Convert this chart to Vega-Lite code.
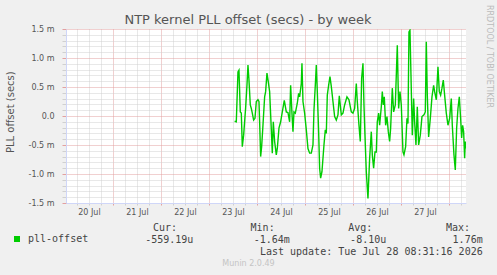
{
 "$schema": "https://vega.github.io/schema/vega-lite/v6.json",
 "width": 400,
 "height": 174,
 "autosize": {"type": "none"},
 "padding": {"left": 66, "top": 29, "right": 31, "bottom": 72},
 "background": "#F0F0F0",
 "config": {"view": {"stroke": null, "fill": "#FFFFFF"}, "font": "DejaVu Sans"},
 "title": {"text": "NTP kernel PLL offset (secs) - by week", "font": "DejaVu Sans", "fontSize": 13, "fontWeight": "normal", "color": "#555555", "anchor": "middle", "frame": "group", "baseline": "alphabetic", "dx": -18, "dy": 32.5, "offset": 0},
 "layer": [
  {
   "data": {"values": [
    {"t":"2026-07-23T12:50:00Z","v":-0.00009},{"t":"2026-07-23T13:40:00Z","v":-0.00010},{"t":"2026-07-23T14:30:00Z","v":0.00076},{"t":"2026-07-23T15:00:00Z","v":0.00079},{"t":"2026-07-23T15:40:00Z","v":0.00007},{"t":"2026-07-23T16:10:00Z","v":0.00005},{"t":"2026-07-23T16:40:00Z","v":-0.00053},{"t":"2026-07-23T17:20:00Z","v":-0.00033},{"t":"2026-07-23T18:20:00Z","v":0.00014},{"t":"2026-07-23T19:00:00Z","v":0.00053},{"t":"2026-07-23T19:30:00Z","v":0.00088},{"t":"2026-07-23T20:00:00Z","v":0.00062},{"t":"2026-07-23T20:40:00Z","v":0.00019},{"t":"2026-07-23T21:10:00Z","v":0.00013},{"t":"2026-07-23T21:40:00Z","v":0.00005},{"t":"2026-07-23T22:20:00Z","v":-0.00007},{"t":"2026-07-23T23:00:00Z","v":-0.00004},{"t":"2026-07-23T23:40:00Z","v":0.00025},
    {"t":"2026-07-24T00:30:00Z","v":0.00028},{"t":"2026-07-24T01:00:00Z","v":0.00025},{"t":"2026-07-24T01:20:00Z","v":-0.00010},{"t":"2026-07-24T01:50:00Z","v":-0.00070},{"t":"2026-07-24T02:20:00Z","v":-0.00053},{"t":"2026-07-24T03:00:00Z","v":-0.00016},{"t":"2026-07-24T03:50:00Z","v":0.00033},{"t":"2026-07-24T04:20:00Z","v":0.00042},{"t":"2026-07-24T05:00:00Z","v":0.00074},{"t":"2026-07-24T05:40:00Z","v":0.00059},{"t":"2026-07-24T06:20:00Z","v":0.00042},{"t":"2026-07-24T07:00:00Z","v":-0.00010},{"t":"2026-07-24T07:40:00Z","v":-0.00064},{"t":"2026-07-24T08:10:00Z","v":-0.00010},{"t":"2026-07-24T08:50:00Z","v":-0.00044},{"t":"2026-07-24T09:40:00Z","v":-0.00067},{"t":"2026-07-24T10:10:00Z","v":-0.00056},{"t":"2026-07-24T11:00:00Z","v":-0.00021},{"t":"2026-07-24T11:50:00Z","v":-0.00010},{"t":"2026-07-24T12:40:00Z","v":0.00007},{"t":"2026-07-24T13:40:00Z","v":0.00027},{"t":"2026-07-24T14:40:00Z","v":0.00007},{"t":"2026-07-24T15:30:00Z","v":0.00006},{"t":"2026-07-24T16:20:00Z","v":-0.00010},{"t":"2026-07-24T16:50:00Z","v":0.00053},{"t":"2026-07-24T17:30:00Z","v":0.00005},{"t":"2026-07-24T18:00:00Z","v":-0.00027},{"t":"2026-07-24T18:30:00Z","v":0.00007},{"t":"2026-07-24T19:10:00Z","v":0.00005},{"t":"2026-07-24T20:10:00Z","v":0.00022},{"t":"2026-07-24T20:50:00Z","v":0.00039},{"t":"2026-07-24T21:20:00Z","v":0.00033},{"t":"2026-07-24T22:10:00Z","v":0.00056},{"t":"2026-07-24T22:30:00Z","v":0.00091},{"t":"2026-07-24T23:00:00Z","v":0.00025},{"t":"2026-07-24T23:50:00Z","v":0.00005},
    {"t":"2026-07-25T00:40:00Z","v":-0.00024},{"t":"2026-07-25T01:30:00Z","v":-0.00056},{"t":"2026-07-25T02:20:00Z","v":-0.00064},{"t":"2026-07-25T03:10:00Z","v":-0.00064},{"t":"2026-07-25T04:00:00Z","v":-0.00050},{"t":"2026-07-25T04:30:00Z","v":0.00010},{"t":"2026-07-25T05:10:00Z","v":0.00053},{"t":"2026-07-25T05:40:00Z","v":0.00088},{"t":"2026-07-25T06:10:00Z","v":0.00042},{"t":"2026-07-25T06:50:00Z","v":-0.00027},{"t":"2026-07-25T07:20:00Z","v":-0.00090},{"t":"2026-07-25T07:50:00Z","v":-0.00107},{"t":"2026-07-25T08:30:00Z","v":-0.00096},{"t":"2026-07-25T09:30:00Z","v":-0.00050},{"t":"2026-07-25T10:10:00Z","v":-0.00024},{"t":"2026-07-25T10:40:00Z","v":-0.00030},{"t":"2026-07-25T11:10:00Z","v":0.00036},{"t":"2026-07-25T11:50:00Z","v":0.00053},{"t":"2026-07-25T12:30:00Z","v":0.00068},{"t":"2026-07-25T13:10:00Z","v":0.00051},{"t":"2026-07-25T14:00:00Z","v":0.00025},{"t":"2026-07-25T14:50:00Z","v":-0.00001},{"t":"2026-07-25T15:40:00Z","v":-0.00007},{"t":"2026-07-25T16:30:00Z","v":0.00002},{"t":"2026-07-25T17:10:00Z","v":0.00035},{"t":"2026-07-25T18:10:00Z","v":0.00002},{"t":"2026-07-25T19:00:00Z","v":0.00005},{"t":"2026-07-25T19:50:00Z","v":0.00019},{"t":"2026-07-25T21:00:00Z","v":0.00033},{"t":"2026-07-25T22:00:00Z","v":0.00028},{"t":"2026-07-25T23:10:00Z","v":0.00007},
    {"t":"2026-07-26T00:00:00Z","v":0.00005},{"t":"2026-07-26T00:50:00Z","v":0.00013},{"t":"2026-07-26T01:40:00Z","v":0.00056},{"t":"2026-07-26T02:10:00Z","v":0.00025},{"t":"2026-07-26T03:00:00Z","v":-0.00016},{"t":"2026-07-26T03:40:00Z","v":-0.00044},{"t":"2026-07-26T04:20:00Z","v":0.00065},{"t":"2026-07-26T05:00:00Z","v":0.00091},{"t":"2026-07-26T05:30:00Z","v":0.00019},{"t":"2026-07-26T06:00:00Z","v":-0.00033},{"t":"2026-07-26T06:40:00Z","v":-0.00096},{"t":"2026-07-26T07:30:00Z","v":-0.00142},{"t":"2026-07-26T08:20:00Z","v":-0.00073},{"t":"2026-07-26T09:10:00Z","v":-0.00027},{"t":"2026-07-26T09:40:00Z","v":-0.00067},{"t":"2026-07-26T10:20:00Z","v":-0.00090},{"t":"2026-07-26T11:00:00Z","v":-0.00062},{"t":"2026-07-26T11:40:00Z","v":-0.00062},{"t":"2026-07-26T12:10:00Z","v":-0.00010},{"t":"2026-07-26T12:50:00Z","v":0.00005},{"t":"2026-07-26T13:20:00Z","v":-0.00016},{"t":"2026-07-26T14:10:00Z","v":0.00016},{"t":"2026-07-26T14:40:00Z","v":0.00042},{"t":"2026-07-26T15:10:00Z","v":0.00019},{"t":"2026-07-26T15:40:00Z","v":0.00033},{"t":"2026-07-26T16:20:00Z","v":-0.00016},{"t":"2026-07-26T17:00:00Z","v":-0.00001},{"t":"2026-07-26T17:40:00Z","v":-0.00027},{"t":"2026-07-26T18:20:00Z","v":-0.00044},{"t":"2026-07-26T18:50:00Z","v":-0.00021},{"t":"2026-07-26T19:40:00Z","v":0.00048},{"t":"2026-07-26T20:20:00Z","v":0.00007},{"t":"2026-07-26T21:10:00Z","v":0.00019},{"t":"2026-07-26T22:10:00Z","v":0.00122},{"t":"2026-07-26T22:50:00Z","v":0.00013},{"t":"2026-07-26T23:30:00Z","v":0.00042},
    {"t":"2026-07-27T00:10:00Z","v":0.00019},{"t":"2026-07-27T01:00:00Z","v":-0.00062},{"t":"2026-07-27T01:30:00Z","v":-0.00067},{"t":"2026-07-27T02:20:00Z","v":-0.00053},{"t":"2026-07-27T03:00:00Z","v":-0.00004},{"t":"2026-07-27T03:30:00Z","v":-0.00013},{"t":"2026-07-27T04:00:00Z","v":0.00145},{"t":"2026-07-27T04:30:00Z","v":0.00148},{"t":"2026-07-27T05:00:00Z","v":0.00071},{"t":"2026-07-27T05:40:00Z","v":-0.00033},{"t":"2026-07-27T06:20:00Z","v":0.00030},{"t":"2026-07-27T06:50:00Z","v":-0.00010},{"t":"2026-07-27T07:30:00Z","v":-0.00050},{"t":"2026-07-27T08:10:00Z","v":0.00016},{"t":"2026-07-27T08:50:00Z","v":-0.00050},{"t":"2026-07-27T09:40:00Z","v":-0.00033},{"t":"2026-07-27T10:30:00Z","v":-0.00001},{"t":"2026-07-27T11:30:00Z","v":0.00002},{"t":"2026-07-27T12:10:00Z","v":0.00007},{"t":"2026-07-27T12:40:00Z","v":0.00128},{"t":"2026-07-27T13:10:00Z","v":0.00036},{"t":"2026-07-27T13:50:00Z","v":-0.00036},{"t":"2026-07-27T14:40:00Z","v":-0.00004},{"t":"2026-07-27T15:30:00Z","v":0.00033},{"t":"2026-07-27T16:20:00Z","v":0.00053},{"t":"2026-07-27T16:50:00Z","v":0.00042},{"t":"2026-07-27T17:40:00Z","v":0.00028},{"t":"2026-07-27T18:30:00Z","v":0.00085},{"t":"2026-07-27T19:10:00Z","v":0.00042},{"t":"2026-07-27T19:50:00Z","v":0.00036},{"t":"2026-07-27T20:30:00Z","v":0.00048},{"t":"2026-07-27T21:10:00Z","v":0.00062},{"t":"2026-07-27T21:50:00Z","v":0.00036},{"t":"2026-07-27T22:40:00Z","v":0.00005},{"t":"2026-07-27T23:30:00Z","v":-0.00016},
    {"t":"2026-07-28T00:20:00Z","v":-0.00004},{"t":"2026-07-28T01:10:00Z","v":0.00030},{"t":"2026-07-28T01:40:00Z","v":-0.00016},{"t":"2026-07-28T02:30:00Z","v":-0.00067},{"t":"2026-07-28T03:10:00Z","v":-0.00093},{"t":"2026-07-28T03:50:00Z","v":-0.00021},{"t":"2026-07-28T04:30:00Z","v":0.00013},{"t":"2026-07-28T05:10:00Z","v":0.00033},{"t":"2026-07-28T05:50:00Z","v":-0.00004},{"t":"2026-07-28T06:20:00Z","v":-0.00038},{"t":"2026-07-28T06:50:00Z","v":-0.00016},{"t":"2026-07-28T07:20:00Z","v":-0.00027},{"t":"2026-07-28T07:50:00Z","v":-0.00073},{"t":"2026-07-28T08:10:00Z","v":-0.00044},{"t":"2026-07-28T08:30:00Z","v":-0.00056}
   ]},
   "mark": {"type": "line", "strokeWidth": 1.4, "clip": true},
   "encoding": {
    "x": {"field": "t", "type": "temporal",
     "scale": {"type": "utc", "domain": [1784507460000, 1785227460000]},
     "axis": {"title": null,
      "values": [1784527200000, 1784548800000, 1784570400000, 1784592000000, 1784613600000, 1784635200000, 1784656800000, 1784678400000, 1784700000000, 1784721600000, 1784743200000, 1784764800000, 1784786400000, 1784808000000, 1784829600000, 1784851200000, 1784872800000, 1784894400000, 1784916000000, 1784937600000, 1784959200000, 1784980800000, 1785002400000, 1785024000000, 1785045600000, 1785067200000, 1785088800000, 1785110400000, 1785132000000, 1785153600000, 1785175200000, 1785196800000, 1785218400000],
      "labelExpr": "utchours(datum.value) == 12 ? utcFormat(datum.value, '%d %b') : ''",
      "labelOverlap": false, "labelFont": "DejaVu Sans", "labelFontSize": 8, "labelColor": "#555555", "labelPadding": 3,
      "grid": true, "gridDash": [1, 1], "gridColor": {"condition": {"test": "utchours(datum.value) == 0", "value": "#E3A0A0"}, "value": "#D0D0D0"},
      "tickSize": 2, "tickColor": {"condition": {"test": "utchours(datum.value) == 0", "value": "#E3A0A0"}, "value": "#D0D0D0"},
      "domainColor": "#CFD6F8"}},
    "y": {"field": "v", "type": "quantitative",
     "scale": {"domain": [-0.0015, 0.0015], "nice": false, "zero": false},
     "axis": {"title": "PLL offset (secs)", "titleFont": "DejaVu Sans", "titleFontSize": 10, "titleFontWeight": "normal", "titleColor": "#555555", "titleX": -55.5, "titleY": 82.7, "titleAngle": -90, "titleAlign": "center", "titleBaseline": "middle",
      "values": [-0.0015, -0.0014, -0.0013, -0.0012, -0.0011, -0.001, -0.0009, -0.0008, -0.0007, -0.0006, -0.0005, -0.0004, -0.0003, -0.0002, -0.0001, 0, 0.0001, 0.0002, 0.0003, 0.0004, 0.0005, 0.0006, 0.0007, 0.0008, 0.0009, 0.001, 0.0011, 0.0012, 0.0013, 0.0014, 0.0015],
      "labelExpr": "abs(datum.value * 2000 - round(datum.value * 2000)) < 0.001 ? (abs(datum.value) < 1e-9 ? '0.0' : (datum.value < 0 ? '-' : '') + format(abs(datum.value * 1000), '.1f') + ' m') : ''",
      "labelOverlap": false, "labelFont": "DejaVu Sans", "labelFontSize": 8, "labelColor": "#555555", "labelPadding": 8,
      "grid": true, "gridDash": [1, 1], "gridColor": {"condition": {"test": "abs(datum.value * 2000 - round(datum.value * 2000)) < 0.001", "value": "#E3A0A0"}, "value": "#D0D0D0"},
      "tickSize": 4, "tickColor": {"condition": {"test": "abs(datum.value * 2000 - round(datum.value * 2000)) < 0.001", "value": "#E3A0A0"}, "value": "#D0D0D0"},
      "domainColor": "#CFD6F8"}},
    "color": {"datum": "pll-offset", "type": "nominal", "scale": {"range": ["#00CC00"]},
     "legend": {"orient": "none", "legendX": -54, "legendY": 205, "title": null, "padding": 0, "symbolType": "square", "symbolSize": 36, "symbolFillColor": "#00CC00", "symbolStrokeWidth": 0, "labelFont": "DejaVu Sans Mono", "labelFontSize": 10, "labelColor": "#444444", "labelOffset": 6}}
   }
  },
  {
   "data": {"values": [{"side": "right"}]},
   "mark": {"type": "rule", "opacity": 0},
   "encoding": {"y": {"datum": 0, "type": "quantitative", "scale": {"domain": [-1, 1]},
    "axis": {"orient": "right", "title": "RRDTOOL / TOBI OETIKER", "labels": false, "ticks": false, "domain": false, "grid": false, "titleAngle": 90, "titleX": 22, "titleY": 27, "titleAlign": "center", "titleBaseline": "middle", "titleFont": "DejaVu Sans", "titleFontSize": 8, "titleFontWeight": "normal", "titleColor": "#BBBBBB"}}}
  },
  {
   "data": {"values": [
    {"row": "head", "col": "Cur", "text": "Cur:"},
    {"row": "head", "col": "Min", "text": "Min:"},
    {"row": "head", "col": "Avg", "text": "Avg:"},
    {"row": "head", "col": "Max", "text": "Max:"}
   ]},
   "mark": {"type": "text", "align": "right", "baseline": "middle", "font": "DejaVu Sans Mono", "fontSize": 10, "color": "#444444"},
   "encoding": {
    "x": {"field": "col", "type": "nominal", "scale": {"type": "point", "domain": ["Cur", "Min", "Avg", "Max"], "range": [111, 404], "padding": 0}, "axis": null},
    "y": {"field": "row", "type": "nominal", "scale": {"type": "point", "domain": ["head", "values", "update"], "range": [199, 223], "padding": 0}, "axis": null},
    "text": {"field": "text"}
   }
  },
  {
   "data": {"values": [
    {"row": "values", "col": "Cur", "text": "-559.19u"},
    {"row": "values", "col": "Min", "text": "-1.64m"},
    {"row": "values", "col": "Avg", "text": "-8.10u"},
    {"row": "values", "col": "Max", "text": "1.76m"},
    {"row": "update", "col": "Max", "text": "Last update: Tue Jul 28 08:31:16 2026"}
   ]},
   "mark": {"type": "text", "align": "right", "baseline": "middle", "font": "DejaVu Sans Mono", "fontSize": 10, "color": "#444444"},
   "encoding": {
    "x": {"field": "col", "type": "nominal", "scale": {"type": "point", "domain": ["Cur", "Min", "Avg", "Max"], "range": [127.3, 416.7], "padding": 0}, "axis": null},
    "y": {"field": "row", "type": "nominal", "scale": {"type": "point", "domain": ["head", "values", "update"], "range": [199, 223], "padding": 0}, "axis": null},
    "text": {"field": "text"}
   }
  },
  {
   "data": {"values": [{"row": "munin", "text": "Munin 2.0.49"}]},
   "mark": {"type": "text", "align": "center", "baseline": "middle", "font": "DejaVu Sans", "fontSize": 8, "color": "#C4C4C4", "dx": -17.5},
   "encoding": {
    "y": {"field": "row", "type": "nominal", "scale": {"type": "point", "domain": ["munin", "end"], "range": [235, 247], "padding": 0}, "axis": null},
    "text": {"field": "text"}
   }
  }
 ],
 "resolve": {"scale": {"x": "independent", "y": "independent"}}
}
